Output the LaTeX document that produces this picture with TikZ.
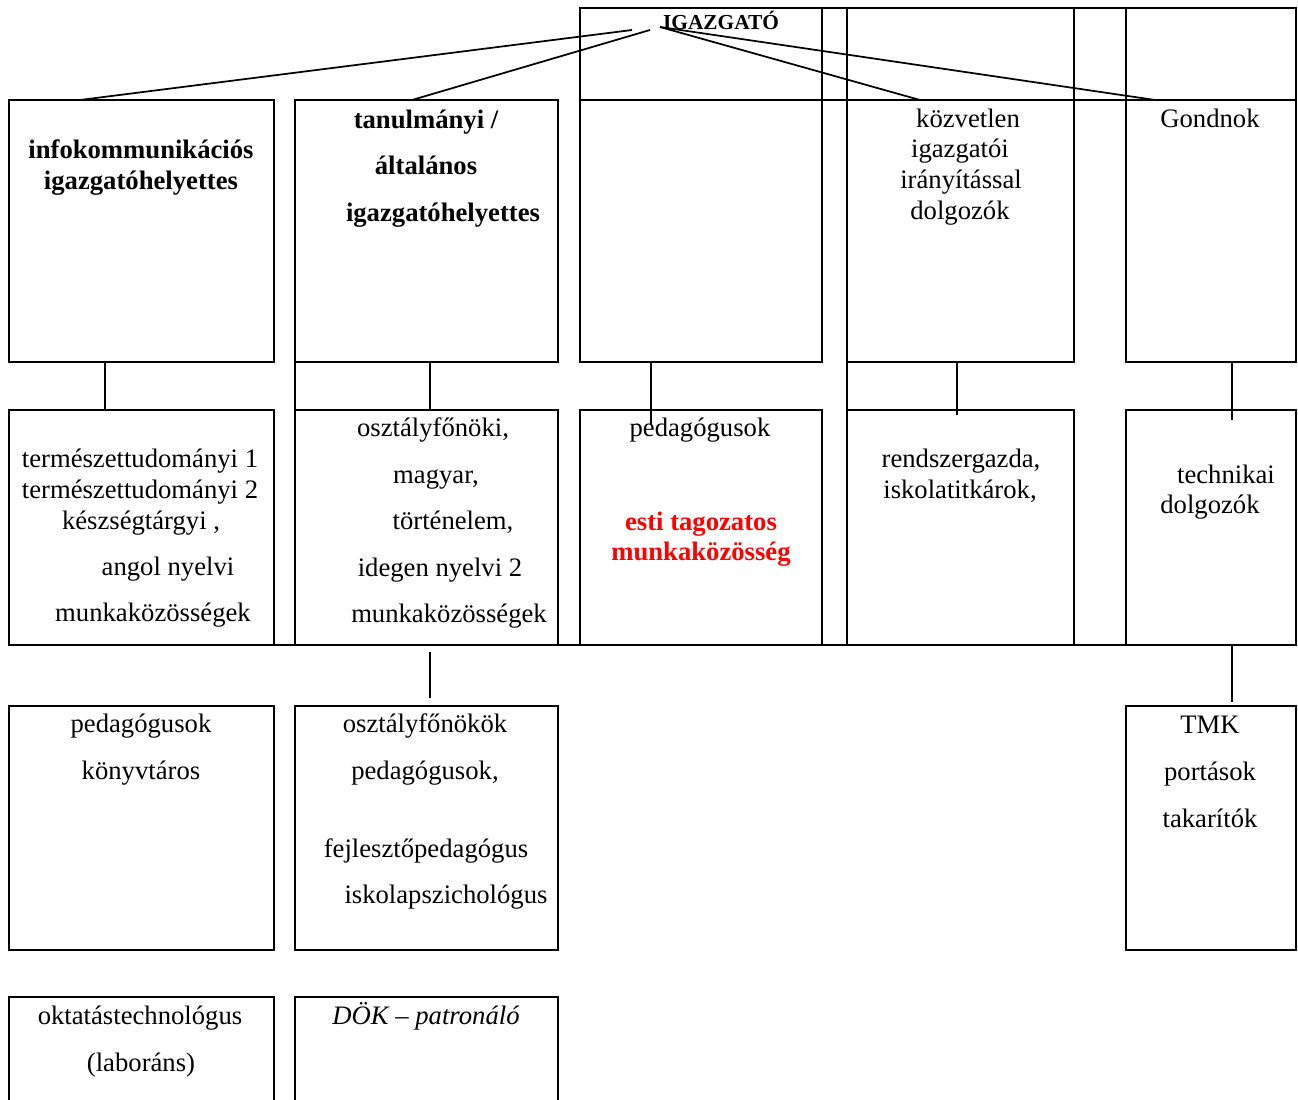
\documentclass[tikz,border=0pt]{standalone}
\usepackage{fontspec}
\setmainfont{Liberation Serif}
\definecolor{redtxt}{RGB}{255,0,0}
\newcommand\bx[5]{\node[box, minimum width={(#4-#2)*0.75pt}, minimum height={(#5-#3)*0.75pt}] (#1) at (#2,#3) {};}
\begin{document}
\begin{tikzpicture}[x=0.75pt,y=-0.75pt,
  box/.style={draw, line width=1.8pt, anchor=north west, inner sep=0pt, outer sep=0pt},
  conn/.style={line width=1.3pt},
  rule/.style={line width=1.8pt},
  t/.style={font=\fontsize{20}{24}\selectfont, anchor=base, inner sep=0pt, yshift=-1.5pt},
  tb/.style={t, font=\fontsize{20}{24}\selectfont\bfseries},
  tr/.style={tb, text=redtxt},
  ti/.style={t, font=\fontsize{20}{24}\selectfont\itshape},
  thead/.style={t, font=\fontsize{16}{19}\selectfont\bfseries}]
\clip (0,0) rectangle (1298,1099);
\fill[white] (0,0) rectangle (1298,1099);
% top row cells
\bx{top1}{580}{8}{822}{100}
\bx{top2}{822}{8}{847}{100}
\bx{top3}{847}{8}{1074}{100}
\bx{top4}{1074}{8}{1126}{100}
\bx{top5}{1126}{8}{1296}{100}
% row 2
\bx{a1}{9}{100}{274}{362}
\bx{a2}{295}{100}{558}{362}
\bx{a3}{580}{100}{822}{362}
\bx{a4}{847}{100}{1074}{362}
\bx{a5}{1126}{100}{1296}{362}
% row 3
\bx{b1}{9}{410}{274}{645}
\bx{b2}{295}{410}{558}{645}
\bx{b3}{580}{410}{822}{645}
\bx{b4}{847}{410}{1074}{645}
\bx{b5}{1126}{410}{1296}{645}
% row 4
\bx{c1}{9}{706}{274}{950}
\bx{c2}{295}{706}{558}{950}
\bx{c5}{1126}{706}{1296}{950}
% row 5
\bx{d1}{9}{997}{274}{1160}
\bx{d2}{295}{997}{558}{1160}
% table rules between rows
\draw[rule] (a2.south west) -- (b2.north west);
\draw[rule] (a4.south west) -- (b4.north west);
\draw[rule] (b1.south west) -- (b5.south east);
% IGAZGATO
\node[thead] (igaz) at (721,28) {IGAZGATÓ};
\coordinate (g1) at (632,30);
\coordinate (g2) at (650,30);
\coordinate (g3) at (660,27);
\draw[conn] (g1) -- ([xshift=53.25pt]a1.north west);
\draw[conn] (g2) -- ([xshift=87.75pt]a2.north west);
\draw[conn] (g3) -- ([xshift=54.75pt]a4.north west);
\draw[conn] (g3) -- ([xshift=21.75pt]a5.north west);
% row2 -> row3 connectors
\draw[conn] ([xshift=72pt]a1.south west) -- ([xshift=72pt]b1.north west);
\draw[conn] ([xshift=101.25pt]a2.south west) -- ([xshift=101.25pt]b2.north west);
\draw[conn] ([xshift=53.25pt]a3.south west) -- ([xshift=53.25pt,yshift=-11.25pt]b3.north west);
\draw[conn] ([xshift=82.5pt]a4.south west) -- ([xshift=82.5pt,yshift=-3.75pt]b4.north west);
\draw[conn] ([xshift=79.5pt]a5.south west) -- ([xshift=79.5pt,yshift=-7.5pt]b5.north west);
% row3 -> row4 connectors
\draw[conn] ([xshift=101.25pt,yshift=-5.25pt]b2.south west) -- ([xshift=101.25pt,yshift=6pt]c2.north west);
\draw[conn] ([xshift=79.5pt]b5.south west) -- ([xshift=79.5pt,yshift=3pt]c5.north west);
% row 2 texts
\node[tb] (t1) at (141,156) {infokommunikációs};
\node[tb] (t2) at (141,187) {igazgatóhelyettes};
\node[tb] (t3) at (426,126) {tanulmányi /};
\node[tb] (t4) at (426,172) {általános};
\node[tb] (t5) at (443,219) {igazgatóhelyettes};
\node[t] (t6) at (968,125) {közvetlen};
\node[t] (t7) at (960,155) {igazgatói};
\node[t] (t8) at (961,186) {irányítással};
\node[t] (t9) at (960,217) {dolgozók};
\node[t] (t10) at (1210,125) {Gondnok};
% row 3 texts
\node[t] (t11) at (140,465) {természettudományi 1};
\node[t] (t12) at (140,496) {természettudományi 2};
\node[t] (t13) at (141,527) {készségtárgyi ,};
\node[t] (t14) at (168,573) {angol nyelvi};
\node[t] (t15) at (153,619) {munkaközösségek};
\node[t] (t16) at (433,434) {osztályfőnöki,};
\node[t] (t17) at (436,481) {magyar,};
\node[t] (t18) at (453,527) {történelem,};
\node[t] (t19) at (440,574) {idegen nyelvi 2};
\node[t] (t20) at (449,620) {munkaközösségek};
\node[t] (t21) at (700,434) {pedagógusok};
\node[tr] (t22) at (701,528) {esti tagozatos};
\node[tr] (t23) at (701,558) {munkaközösség};
\node[t] (t24) at (961,465) {rendszergazda,};
\node[t] (t25) at (960,496) {iskolatitkárok,};
\node[t] (t26) at (1226,481) {technikai};
\node[t] (t27) at (1210,511) {dolgozók};
% row 4 texts
\node[t] (t28) at (141,730) {pedagógusok};
\node[t] (t29) at (141,777) {könyvtáros};
\node[t] (t30) at (425,730) {osztályfőnökök};
\node[t] (t31) at (425,777) {pedagógusok,};
\node[t] (t32) at (426,855) {fejlesztőpedagógus};
\node[t] (t33) at (446,901) {iskolapszichológus};
\node[t] (t34) at (1210,731) {TMK};
\node[t] (t35) at (1210,778) {portások};
\node[t] (t36) at (1210,825) {takarítók};
% row 5 texts
\node[t] (t37) at (140,1022) {oktatástechnológus};
\node[t] (t38) at (141,1069) {(laboráns)};
\node[ti] (t39) at (426,1022) {DÖK – patronáló};
\end{tikzpicture}
\end{document}
